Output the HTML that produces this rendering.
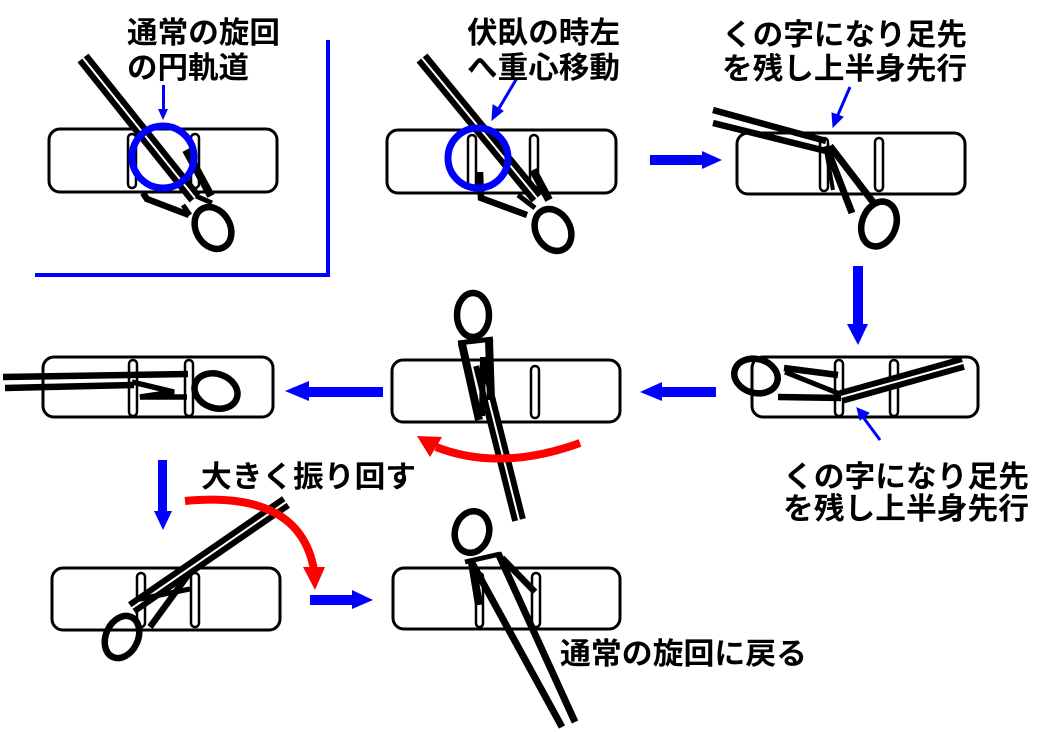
<!DOCTYPE html>
<html><head><meta charset="utf-8"><style>
html,body{margin:0;padding:0;background:#fff;}
svg{display:block;}
text{font-family:"Liberation Sans","Noto Sans CJK JP",sans-serif;font-weight:bold;font-size:30px;fill:#000;}
</style></head><body>
<svg width="1045" height="732" viewBox="0 0 1045 732" xmlns="http://www.w3.org/2000/svg">
<rect width="1045" height="732" fill="#fff"/>

<!-- blue L frame -->
<path d="M328,40 V275 H35" fill="none" stroke="#0000ff" stroke-width="4"/>

<!-- ===== Boxes ===== -->
<g fill="#fff" stroke="#000" stroke-width="3">
<rect x="49" y="129" width="228" height="63" rx="11"/>
<rect x="387" y="130" width="229" height="63" rx="11"/>
<rect x="737" y="133" width="228" height="61" rx="11"/>
<rect x="752" y="357" width="226" height="60" rx="11"/>
<rect x="392" y="360" width="228" height="62" rx="11"/>
<rect x="43" y="357" width="230" height="60" rx="11"/>
<rect x="52" y="568" width="228" height="62" rx="11"/>
<rect x="393" y="568" width="227" height="61" rx="11"/>
</g>
<!-- slots -->
<g fill="#fff" stroke="#000" stroke-width="2.5">
<rect x="128" y="134" width="8" height="54" rx="4"/>
<rect x="191" y="134" width="8" height="54" rx="4"/>
<rect x="468" y="135" width="8" height="54" rx="4"/>
<rect x="530" y="135" width="8" height="54" rx="4"/>
<rect x="820" y="138" width="8" height="53" rx="4"/>
<rect x="875" y="138" width="8" height="53" rx="4"/>
<rect x="835" y="360" width="8" height="56" rx="4"/>
<rect x="890" y="360" width="8" height="56" rx="4"/>
<rect x="531" y="366" width="8" height="52" rx="4"/>
<rect x="129" y="360" width="8" height="56" rx="4"/>
<rect x="185" y="360" width="8" height="56" rx="4"/>
<rect x="137" y="573" width="8" height="54" rx="4"/>
<rect x="191" y="573" width="8" height="54" rx="4"/>
<rect x="476" y="573" width="7" height="54" rx="3.5"/>
<rect x="532" y="573" width="8" height="54" rx="4"/>
</g>

<!-- ===== Panel 1 skier ===== -->
<g stroke="#000" fill="none" stroke-linecap="butt">
<line x1="83" y1="58" x2="195" y2="198" stroke-width="14"/>
<line x1="83" y1="58" x2="195" y2="198" stroke="#fff" stroke-width="2"/>
<polyline points="143,193 147,199 189,215" stroke-width="6.5"/>
<line x1="186" y1="150" x2="211" y2="196" stroke-width="8"/>
<line x1="196" y1="196" x2="212" y2="203" stroke-width="5"/>
<line x1="183" y1="205" x2="190" y2="215" stroke-width="5"/>
<ellipse cx="213" cy="228" rx="17" ry="22" transform="rotate(-30 213 228)" stroke-width="6.5"/>
</g>
<circle cx="163" cy="157" r="31" fill="none" stroke="#0000ff" stroke-width="7"/>

<!-- ===== Panel 2 skier ===== -->
<g stroke="#000" fill="none">
<line x1="422" y1="58" x2="537" y2="198" stroke-width="14"/>
<line x1="422" y1="58" x2="537" y2="198" stroke="#fff" stroke-width="2"/>
<polyline points="480,172 481,198 527,215" stroke-width="6.5"/>
<line x1="533" y1="170" x2="549" y2="200" stroke-width="8"/>
<line x1="518" y1="195" x2="535" y2="208" stroke-width="5"/>
<ellipse cx="553" cy="230" rx="17" ry="22" transform="rotate(-30 553 230)" stroke-width="6.5"/>
</g>
<circle cx="478" cy="158" r="30" fill="none" stroke="#0000ff" stroke-width="7"/>

<!-- ===== Panel 3 skier ===== -->
<g stroke="#000" fill="none">
<line x1="713" y1="110" x2="826" y2="141" stroke-width="6.5"/>
<line x1="713" y1="123" x2="826" y2="151" stroke-width="6.5"/>
<line x1="826" y1="146" x2="852" y2="213" stroke-width="7"/>
<line x1="830" y1="146" x2="873" y2="202" stroke-width="7"/>
<line x1="826" y1="150" x2="833" y2="190" stroke-width="4"/>
<ellipse cx="879" cy="224" rx="17" ry="23" transform="rotate(20 879 224)" stroke-width="6.5"/>
</g>

<!-- ===== Panel 4 skier ===== -->
<g stroke="#000" fill="none">
<line x1="841" y1="397" x2="963" y2="363" stroke-width="14"/>
<line x1="841" y1="397" x2="963" y2="363" stroke="#fff" stroke-width="2"/>
<line x1="784" y1="368" x2="838" y2="375" stroke-width="6.5"/>
<line x1="778" y1="397" x2="841" y2="398" stroke-width="6.5"/>
<line x1="785" y1="372" x2="840" y2="394" stroke-width="5"/>
<ellipse cx="756" cy="376" rx="22" ry="17" transform="rotate(15 756 376)" stroke-width="6.5"/>
</g>

<!-- ===== Panel 5 skier ===== -->
<g stroke="#000" fill="none">
<line x1="480" y1="365" x2="519" y2="520" stroke-width="14"/>
<line x1="480" y1="365" x2="519" y2="520" stroke="#fff" stroke-width="2"/>
<line x1="462" y1="344" x2="479" y2="420" stroke-width="8"/>
<line x1="489" y1="340" x2="491" y2="400" stroke-width="8"/>
<line x1="483" y1="357" x2="482" y2="416" stroke-width="6"/>
<line x1="458" y1="343" x2="493" y2="339" stroke-width="5"/>
<ellipse cx="473" cy="315" rx="16" ry="22" stroke-width="6.5"/>
</g>

<!-- ===== Panel 6 skier ===== -->
<g stroke="#000" fill="none">
<line x1="3" y1="377" x2="188" y2="374" stroke-width="6.5"/>
<line x1="5" y1="388" x2="134" y2="385" stroke-width="6.5"/>
<polyline points="132,382 174,392 140,397 187,397" stroke-width="5.5"/>
<ellipse cx="216" cy="391" rx="22" ry="17" transform="rotate(20 216 391)" stroke-width="6.5"/>
</g>

<!-- ===== Panel 7 skier ===== -->
<g stroke="#000" fill="none">
<line x1="132" y1="608" x2="286" y2="502" stroke-width="14"/>
<line x1="132" y1="608" x2="286" y2="502" stroke="#fff" stroke-width="2"/>
<line x1="135" y1="600" x2="190" y2="589" stroke-width="5"/>
<line x1="150" y1="627" x2="188" y2="575" stroke-width="6.5"/>
<ellipse cx="122" cy="637" rx="16" ry="22" transform="rotate(25 122 637)" stroke-width="6.5"/>
</g>

<!-- ===== Panel 8 skier ===== -->
<g stroke="#000" fill="none">
<line x1="471" y1="561" x2="562" y2="727" stroke-width="7"/>
<line x1="498" y1="553" x2="575" y2="722" stroke-width="7"/>
<line x1="472" y1="563" x2="479" y2="605" stroke-width="8"/>
<line x1="502" y1="558" x2="535" y2="592" stroke-width="6.5"/>
<line x1="465" y1="562" x2="500" y2="554" stroke-width="5"/>
<ellipse cx="472" cy="532" rx="17" ry="21" transform="rotate(15 472 532)" stroke-width="6.5"/>
</g>

<!-- ===== Blue arrows ===== -->
<g fill="#0000ff">
<rect x="650" y="155" width="53" height="10"/>
<polygon points="702,151 722,160 702,169"/>
<rect x="853" y="266" width="10" height="60"/>
<polygon points="847,324 868,324 858,345"/>
<rect x="660" y="387" width="56" height="10"/>
<polygon points="662,382 662,401 640,392"/>
<rect x="307" y="387" width="76" height="10"/>
<polygon points="309,381 309,401 285,391"/>
<rect x="158" y="460" width="9" height="53"/>
<polygon points="154,511 172,511 163,530"/>
<rect x="310" y="595" width="44" height="10"/>
<polygon points="352,590 373,600 352,609"/>
<rect x="162" y="85" width="3" height="26"/>
<polygon points="158,109 168,109 163,120"/>
</g>
<g stroke="#0000ff" stroke-width="3" fill="#0000ff">
<line x1="517" y1="78" x2="498" y2="110"/>
<polygon points="492,120 493,105 503,111" stroke-width="1"/>
<line x1="850" y1="87" x2="837" y2="117"/>
<polygon points="833,127 832,113 843,117" stroke-width="1"/>
<line x1="880" y1="440" x2="863" y2="417"/>
<polygon points="857,408 869,413 860,420" stroke-width="1"/>
</g>

<!-- ===== Red arcs ===== -->
<path d="M580,443 Q500,472 436,447" fill="none" stroke="#ff0000" stroke-width="8"/>
<polygon points="417,436 442,437 430,457" fill="#ff0000"/>
<path d="M185,501 Q300,490 314,570" fill="none" stroke="#ff0000" stroke-width="8"/>
<polygon points="303,567 325,567 315,590" fill="#ff0000"/>

<!-- ===== Text ===== -->
<text x="127" y="43" textLength="153" lengthAdjust="spacingAndGlyphs">通常の旋回</text>
<text x="127" y="78" textLength="122" lengthAdjust="spacingAndGlyphs">の円軌道</text>
<text x="467" y="43" textLength="153" lengthAdjust="spacingAndGlyphs">伏臥の時左</text>
<text x="467" y="78" textLength="153" lengthAdjust="spacingAndGlyphs">へ重心移動</text>
<text x="722" y="45" textLength="245" lengthAdjust="spacingAndGlyphs">くの字になり足先</text>
<text x="722" y="79" textLength="245" lengthAdjust="spacingAndGlyphs">を残し上半身先行</text>
<text x="783" y="487" textLength="246" lengthAdjust="spacingAndGlyphs">くの字になり足先</text>
<text x="783" y="519" textLength="246" lengthAdjust="spacingAndGlyphs">を残し上半身先行</text>
<text x="201" y="487" textLength="215" lengthAdjust="spacingAndGlyphs">大きく振り回す</text>
<text x="560" y="664" textLength="247" lengthAdjust="spacingAndGlyphs">通常の旋回に戻る</text>
</svg>
</body></html>
